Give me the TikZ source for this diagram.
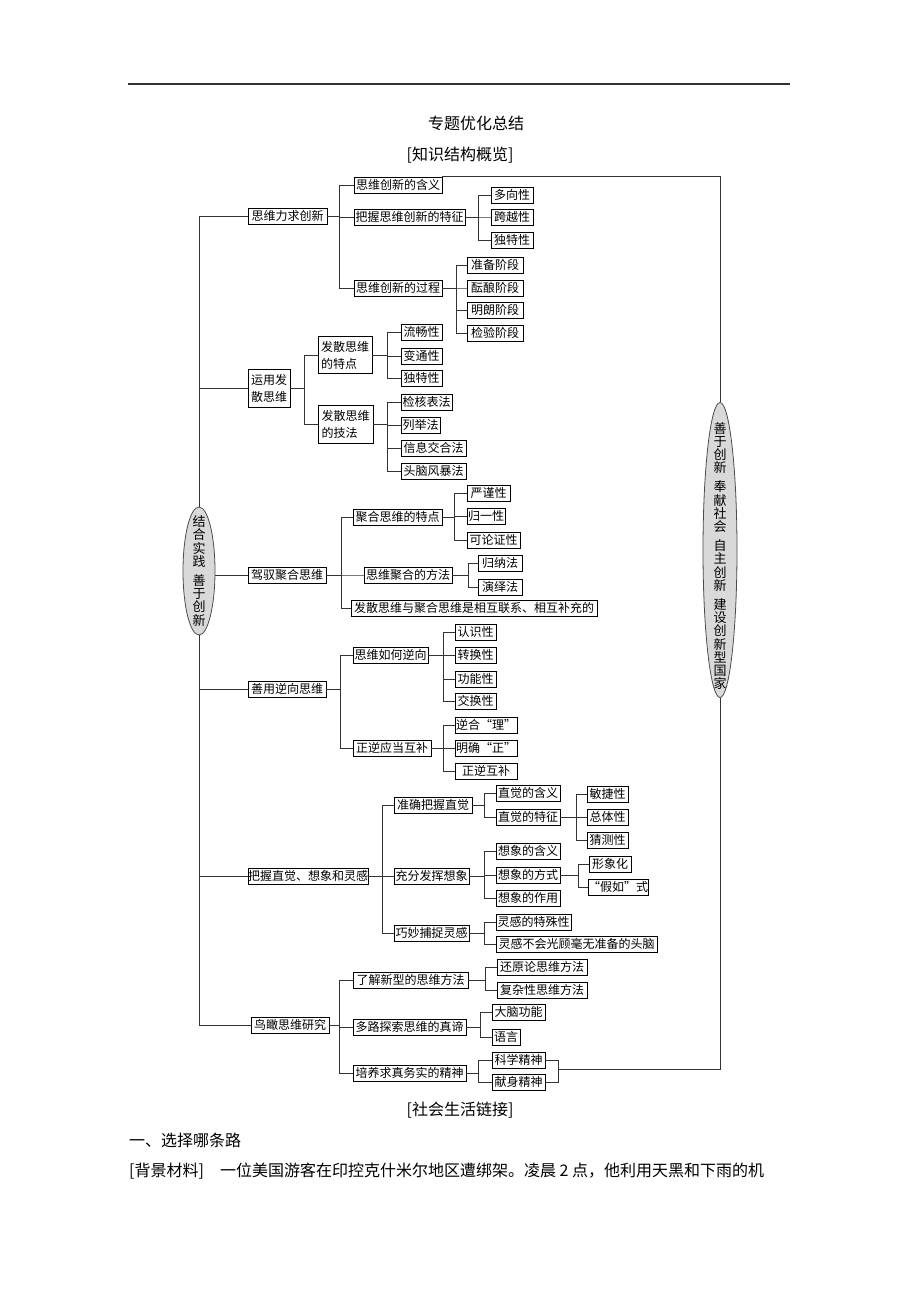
\documentclass[tikz,border=0pt]{standalone}
\usepackage{fontspec}
\setmainfont{Noto Sans CJK SC}
\newfontfamily\cjk{Noto Sans CJK SC}
\usetikzlibrary{shapes.geometric}
\tikzset{
  box/.style={draw=black, line width=0.9pt, inner sep=0pt, minimum height=16pt, font=\cjk\fontsize{12}{17}\selectfont},
  ln/.style={draw=black!80, line width=0.8pt},
  ell/.style={ellipse, draw=black!70, line width=0.8pt, fill=black!15, inner sep=0pt},
  vt/.style={align=center, inner sep=0pt, font=\cjk\fontsize{13}{13.2}\selectfont},
  ttl/.style={inner sep=0pt, font=\cjk\fontsize{16}{18}\selectfont}
}
\newcommand\bx[5]{\node[box, minimum width={(#3-#2)*1pt}] (#1) at ({(#2+#3)/2},#4) {#5};}
\newcommand\lk[3]{\draw[ln] (#2.west) -- (#3,0 |- #2.west) |- (#1.east);}
\begin{document}
\begin{tikzpicture}[x=1pt,y=-1pt]
\useasboundingbox (0,0) rectangle (920,1302);
\fill[white] (0,0) rectangle (920,1302);
\draw[line width=1.4pt, black!80] (128,84) -- (790,84);
\node[ttl] (t1) at (476,123) {专题优化总结};
\node[ttl] (t2) at (460,155) {[知识结构概览]};
\node[ttl] (t3) at (460,1110) {[社会生活链接]};
\node[ttl, anchor=west] (t4) at (129,1140) {一、选择哪条路};
\node[ttl, anchor=west] (t5) at (129,1171) {[背景材料]\quad 一位美国游客在印控克什米尔地区遭绑架。凌晨 2 点，他利用天黑和下雨的机};

% ellipses
\node[ell, minimum width=32pt, minimum height=128pt] (L) at (199,571) {};
\node[vt] (Lt) at (199,571) {结\\合\\实\\践\\[6pt]善\\于\\创\\新};
\node[ell, minimum width=34pt, minimum height=295pt] (R) at (720,550) {};
\node[vt] (Rt) at (720,556) {善\\于\\创\\新\\[6pt]奉\\献\\社\\会\\[6pt]自\\主\\创\\新\\[6pt]建\\设\\创\\新\\型\\国\\家};

% main branches
\bx{m1}{248}{327}{216}{思维力求创新}
\node[box, minimum width=42pt, minimum height=38pt, align=left] (m2) at (269,388) {运用发\\散思维};
\bx{m3}{248}{326}{575}{驾驭聚合思维}
\bx{m4}{248}{326}{689}{善用逆向思维}
\bx{m5}{248}{368}{876}{把握直觉、想象和灵感}
\bx{m6}{251}{329}{1025}{鸟瞰思维研究}

\draw[ln] (L.north) |- (m1.west);
\draw[ln] (L.south) |- (m6.west);
\draw[ln] (m2.west) -- (m2.west -| L.center);
\draw[ln] (m3.west) -- (m3.west -| L.east);
\draw[ln] (m4.west) -- (m4.west -| L.center);
\draw[ln] (m5.west) -- (m5.west -| L.center);

% branch 1
\bx{a1}{354}{442}{185}{思维创新的含义}
\bx{a2}{354}{465}{217}{把握思维创新的特征}
\bx{a3}{354}{442}{288}{思维创新的过程}
\lk{m1}{a1}{339}\lk{m1}{a2}{339}\lk{m1}{a3}{339}
\bx{a21}{491}{533}{195}{多向性}
\bx{a22}{491}{533}{217}{跨越性}
\bx{a23}{491}{533}{240}{独特性}
\lk{a2}{a21}{478}\lk{a2}{a22}{478}\lk{a2}{a23}{478}
\bx{a31}{467}{523}{265}{准备阶段}
\bx{a32}{467}{523}{288}{酝酿阶段}
\bx{a33}{467}{523}{310}{明朗阶段}
\bx{a34}{467}{523}{333}{检验阶段}
\lk{a3}{a31}{456}\lk{a3}{a32}{456}\lk{a3}{a33}{456}\lk{a3}{a34}{456}

% branch 2
\node[box, minimum width=54pt, minimum height=37pt, align=left] (c1) at (345,355) {发散思维\\的特点};
\node[box, minimum width=55pt, minimum height=38pt, align=left] (c2) at (345.5,424) {发散思维\\的技法};
\lk{m2}{c1}{304}\lk{m2}{c2}{304}
\bx{c11}{401}{442}{332}{流畅性}
\bx{c12}{401}{442}{356}{变通性}
\bx{c13}{401}{442}{378}{独特性}
\lk{c1}{c11}{387}\lk{c1}{c12}{387}\lk{c1}{c13}{387}
\bx{c21}{401}{452}{402}{检核表法}
\bx{c22}{401}{440}{425}{列举法}
\bx{c23}{401}{466}{448}{信息交合法}
\bx{c24}{401}{466}{471}{头脑风暴法}
\lk{c2}{c21}{387}\lk{c2}{c22}{387}\lk{c2}{c23}{387}\lk{c2}{c24}{387}

% branch 3
\bx{d1}{353}{442}{517}{聚合思维的特点}
\bx{d2}{364}{452}{575}{思维聚合的方法}
\bx{d3}{351}{597}{608}{发散思维与聚合思维是相互联系、相互补充的}
\lk{m3}{d1}{341}\lk{m3}{d2}{341}\lk{m3}{d3}{341}
\bx{d11}{467}{510}{493}{严谨性}
\bx{d12}{467}{505}{516}{归一性}
\bx{d13}{467}{520}{540}{可论证性}
\lk{d1}{d11}{454}\lk{d1}{d12}{454}\lk{d1}{d13}{454}
\bx{d21}{478}{522}{563}{归纳法}
\bx{d22}{478}{522}{587}{演绎法}
\lk{d2}{d21}{468}\lk{d2}{d22}{468}

% branch 4
\bx{e1}{353}{428}{655}{思维如何逆向}
\bx{e2}{353}{431}{748}{正逆应当互补}
\lk{m4}{e1}{340}\lk{m4}{e2}{340}
\bx{e11}{455}{496}{632}{认识性}
\bx{e12}{455}{496}{655}{转换性}
\bx{e13}{455}{496}{679}{功能性}
\bx{e14}{455}{496}{701}{交换性}
\lk{e1}{e11}{443}\lk{e1}{e12}{443}\lk{e1}{e13}{443}\lk{e1}{e14}{443}
\bx{e21}{455}{517}{725}{逆合“理”}
\bx{e22}{455}{517}{748}{明确“正”}
\bx{e23}{455}{517}{771}{正逆互补}
\lk{e2}{e21}{443}\lk{e2}{e22}{443}\lk{e2}{e23}{443}

% branch 5
\bx{f1}{394}{472}{805}{准确把握直觉}
\bx{f2}{394}{469}{876}{充分发挥想象}
\bx{f3}{394}{469}{933}{巧妙捕捉灵感}
\lk{m5}{f1}{382}\lk{m5}{f2}{382}\lk{m5}{f3}{382}
\bx{f11}{496}{560}{793}{直觉的含义}
\bx{f12}{496}{560}{817}{直觉的特征}
\lk{f1}{f11}{484}\lk{f1}{f12}{484}
\bx{f121}{587}{628}{794}{敏捷性}
\bx{f122}{587}{628}{817}{总体性}
\bx{f123}{587}{628}{840}{猜测性}
\lk{f12}{f121}{576}\lk{f12}{f122}{576}\lk{f12}{f123}{576}
\bx{f21}{496}{560}{851}{想象的含义}
\bx{f22}{496}{560}{875}{想象的方式}
\bx{f23}{496}{560}{898}{想象的作用}
\lk{f2}{f21}{484}\lk{f2}{f22}{484}\lk{f2}{f23}{484}
\bx{f221}{589}{631}{864}{形象化}
\bx{f222}{589}{647}{887}{“假如”式}
\lk{f22}{f221}{578}\lk{f22}{f222}{578}
\bx{f31}{496}{571}{922}{灵感的特殊性}
\bx{f32}{496}{657}{944}{灵感不会光顾毫无准备的头脑}
\lk{f3}{f31}{484}\lk{f3}{f32}{484}

% branch 6
\bx{g1}{353}{468}{980}{了解新型的思维方法}
\bx{g2}{353}{466}{1027}{多路探索思维的真谛}
\bx{g3}{353}{466}{1073}{培养求真务实的精神}
\lk{m6}{g1}{339}\lk{m6}{g2}{339}\lk{m6}{g3}{339}
\bx{g11}{497}{587}{967}{还原论思维方法}
\bx{g12}{497}{587}{990}{复杂性思维方法}
\lk{g1}{g11}{485}\lk{g1}{g12}{485}
\bx{g21}{492}{545}{1012}{大脑功能}
\bx{g22}{492}{520}{1037}{语言}
\lk{g2}{g21}{480}\lk{g2}{g22}{480}
\bx{g31}{492}{545}{1060}{科学精神}
\bx{g32}{492}{545}{1082}{献身精神}
\lk{g3}{g31}{478}\lk{g3}{g32}{478}

% right side connectors
\draw[ln] (R.north) |- (a1.north east);
\coordinate (jb) at (558,1069);
\draw[ln] (g31.east) -| (jb);
\draw[ln] (g32.east) -| (jb);
\draw[ln] (jb) -| (R.south);
\end{tikzpicture}
\end{document}
